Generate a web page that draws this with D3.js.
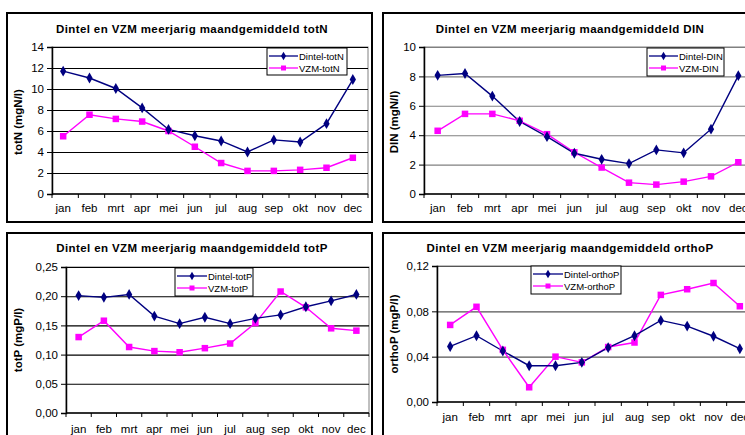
<!DOCTYPE html>
<html><head><meta charset="utf-8">
<script src="https://cdn.jsdelivr.net/npm/d3@7"></script>
<style>body{margin:0;background:#fff}svg{display:block}text{font-family:"Liberation Sans",Arial,sans-serif}</style>
</head><body>
<svg id="c" width="745" height="435"></svg>
<script>
const months = ["jan","feb","mrt","apr","mei","jun","jul","aug","sep","okt","nov","dec"];

const totN_Dintel = [11.7,11.05,10.05,8.2,6.15,5.55,5.05,4.0,5.15,4.95,6.7,10.9];
const totN_VZM    = [5.5,7.55,7.15,6.9,6.0,4.5,2.95,2.2,2.2,2.3,2.5,3.45];
const totN_ticks  = [0,2,4,6,8,10,12,14];

const DIN_Dintel = [8.07,8.2,6.66,4.93,3.9,2.77,2.36,2.07,3.0,2.8,4.41,8.05];
const DIN_VZM    = [4.3,5.45,5.45,4.98,4.07,2.84,1.8,0.77,0.64,0.84,1.2,2.16];
const DIN_ticks  = [0,2,4,6,8,10];

const totP_Dintel = [0.201,0.198,0.203,0.166,0.153,0.164,0.153,0.162,0.168,0.182,0.192,0.203];
const totP_VZM    = [0.130,0.158,0.113,0.106,0.104,0.111,0.119,0.154,0.208,0.181,0.145,0.141];
const totP_ticks  = [0,0.05,0.10,0.15,0.20,0.25];

const orthoP_Dintel = [0.049,0.0585,0.045,0.032,0.032,0.035,0.048,0.0585,0.072,0.067,0.058,0.047];
const orthoP_VZM    = [0.068,0.084,0.046,0.013,0.040,0.035,0.0485,0.0525,0.0945,0.0995,0.105,0.0845];
const orthoP_ticks  = [0,0.04,0.08,0.12];

const svg = d3.select("#c");
const NAVY = "#000080", MAG = "#ff00ff";

function fmtComma(d){ return d3.format(".2f")(d).replace(".", ","); }

function panel(o){
  const g = svg.append("g");
  g.append("rect").attr("x",o.bx).attr("y",o.by).attr("width",o.bw).attr("height",o.bh)
    .attr("fill","#fff").attr("stroke","#000").attr("stroke-width",2);
  g.append("text").attr("x",o.tx).attr("y",o.ty).attr("text-anchor","middle")
    .attr("font-size",11.5).attr("font-weight","bold").attr("letter-spacing",0.4).text(o.title);
  g.append("text").attr("transform",`translate(${o.lx},${o.ly}) rotate(-90)`)
    .attr("text-anchor","middle").attr("font-size",11.5).attr("font-weight","bold").text(o.ylabel);

  const y = d3.scaleLinear().domain([0, d3.max(o.ticks)]).range([o.y0, o.y1]);
  const x = d3.scaleBand().domain(months).range([o.x0, o.x1]);
  const cx = d => x(d) + x.bandwidth()/2 + (o.dx||0);

  g.append("rect").attr("x",o.x0).attr("y",o.y1).attr("width",o.x1-o.x0).attr("height",o.y0-o.y1)
    .attr("fill","none").attr("stroke","#808080").attr("stroke-width",1);
  g.append("g").selectAll("line").data(o.ticks.filter(t=>t>0)).join("line")
    .attr("x1",o.x0).attr("x2",o.x1).attr("y1",d=>y(d)+0.5).attr("y2",d=>y(d)+0.5)
    .attr("stroke",o.grid).attr("stroke-width",1.1);

  const ya = g.append("g").attr("transform",`translate(${o.x0},0)`)
    .call(d3.axisLeft(y).tickValues(o.ticks).tickSize(5).tickPadding(3).tickFormat(o.fmt));
  ya.select(".domain").attr("stroke","#000").attr("stroke-width",1.5);
  ya.selectAll("text").attr("font-size",11.5).attr("fill","#000").attr("font-family","Liberation Sans, Arial, sans-serif");
  g.append("line").attr("x1",o.x0).attr("x2",o.x1).attr("y1",o.y0).attr("y2",o.y0)
    .attr("stroke","#000").attr("stroke-width",1.5);
  const bounds = months.map(m=>x(m)).concat([o.x1]);
  g.append("g").selectAll("line").data(bounds).join("line")
    .attr("x1",d=>d).attr("x2",d=>d).attr("y1",o.y0).attr("y2",o.y0+4)
    .attr("stroke","#000").attr("stroke-width",1);
  g.append("g").selectAll("text").data(months).join("text")
    .attr("x",d=>x(d)+x.bandwidth()/2 + (o.dx||0)).attr("y",o.xly).attr("text-anchor","middle")
    .attr("font-size",11.5).text(d=>d);

  const line = d3.line().x((d,i)=>cx(months[i])).y(d=>y(d));
  g.append("path").datum(o.vzm).attr("d",line).attr("fill","none").attr("stroke",MAG).attr("stroke-width",1.4);
  g.append("path").datum(o.din).attr("d",line).attr("fill","none").attr("stroke",NAVY).attr("stroke-width",1.4);
  const s = 6.5;
  g.append("g").selectAll("rect").data(o.vzm).join("rect")
    .attr("x",(d,i)=>cx(months[i])-s/2).attr("y",d=>y(d)-s/2).attr("width",s).attr("height",s).attr("fill",MAG);
  const dia = d3.symbol().type(d3.symbolDiamond).size(34);
  g.append("g").selectAll("path").data(o.din).join("path")
    .attr("transform",(d,i)=>`translate(${cx(months[i])},${y(d)})`).attr("d",dia).attr("fill",NAVY);

  const L = o.leg;
  g.append("rect").attr("x",L.x).attr("y",L.y).attr("width",L.w).attr("height",L.h)
    .attr("fill","#fff").attr("stroke","#000").attr("stroke-width",1);
  const rows = [{n:o.names[0],c:NAVY,m:"d"},{n:o.names[1],c:MAG,m:"s"}];
  rows.forEach((r,i)=>{
    const ry = L.y + 8 + i*12;
    g.append("line").attr("x1",L.x+2).attr("x2",L.x+L.lw).attr("y1",ry).attr("y2",ry).attr("stroke",r.c).attr("stroke-width",1.3);
    const mx = L.x + 2 + (L.lw-2)/2;
    if(r.m==="d") g.append("path").attr("transform",`translate(${mx},${ry})`).attr("d",d3.symbol().type(d3.symbolDiamond).size(22)).attr("fill",r.c);
    else g.append("rect").attr("x",mx-2.5).attr("y",ry-2.5).attr("width",5).attr("height",5).attr("fill",r.c);
    g.append("text").attr("x",L.x+L.lw+1).attr("y",ry+3.5).attr("font-size",9.5).text(r.n);
  });
}

panel({bx:7,by:13,bw:365,bh:209,tx:192,ty:33,title:"Dintel en VZM meerjarig maandgemiddeld totN",
  lx:22,ly:122,ylabel:"totN (mgN/l)",ticks:totN_ticks,fmt:d3.format("d"),
  x0:52,x1:368,y0:194,y1:47,dx:-2,grid:"#000",xly:212,
  din:totN_Dintel,vzm:totN_VZM,names:["Dintel-totN","VZM-totN"],
  leg:{x:267,y:48,w:80,h:27,lw:31}});

panel({bx:383,by:13,bw:380,bh:209,tx:570,ty:33,title:"Dintel en VZM meerjarig maandgemiddeld DIN",
  lx:398,ly:122,ylabel:"DIN (mgN/l)",ticks:DIN_ticks,fmt:d3.format("d"),
  x0:424,x1:752,y0:194,y1:47,dx:0,grid:"#808080",xly:212,
  din:DIN_Dintel,vzm:DIN_VZM,names:["Dintel-DIN","VZM-DIN"],
  leg:{x:647,y:48,w:77,h:28,lw:31}});

panel({bx:7,by:233,bw:365,bh:215,tx:192,ty:252,title:"Dintel en VZM meerjarig maandgemiddeld totP",
  lx:22,ly:340,ylabel:"totP (mgP/l)",ticks:totP_ticks,fmt:fmtComma,
  x0:66,x1:369,y0:413,y1:267,dx:0,grid:"#000",xly:433,
  din:totP_Dintel,vzm:totP_VZM,names:["Dintel-totP","VZM-totP"],
  leg:{x:175,y:268,w:78,h:28,lw:32}});

panel({bx:383,by:233,bw:380,bh:215,tx:570,ty:252,title:"Dintel en VZM meerjarig maandgemiddeld orthoP",
  lx:398,ly:334,ylabel:"orthoP (mgP/l)",ticks:orthoP_ticks,fmt:fmtComma,
  x0:437,x1:753,y0:402,y1:266,dx:0,grid:"#555",xly:421,
  din:orthoP_Dintel,vzm:orthoP_VZM,names:["Dintel-orthoP","VZM-orthoP"],
  leg:{x:531,y:266,w:90,h:28,lw:32}});
</script>
</body></html>
